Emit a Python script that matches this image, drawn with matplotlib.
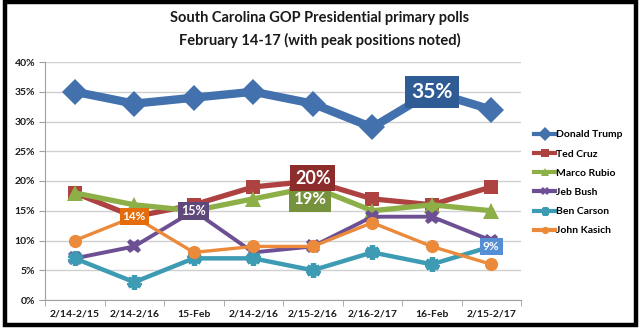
import matplotlib
matplotlib.use("Agg")
import matplotlib.pyplot as plt
from matplotlib.patches import Rectangle

plt.rcParams['font.family'] = ['Lato', 'DejaVu Sans']

categories = ["2/14-2/15", "2/14-2/16", "15-Feb", "2/14-2/16", "2/15-2/16", "2/16-2/17", "16-Feb", "2/15-2/17"]
trump = [35, 33, 34, 35, 33, 29, 35, 32]
cruz = [18, 14, 16, 19, 20, 17, 16, 19]
rubio = [18, 16, 15, 17, 19, 15, 16, 15]
bush = [7, 9, 15, 8, 9, 14, 14, 10]
carson = [7, 3, 7, 7, 5, 8, 6, 9]
kasich = [10, 14, 8, 9, 9, 13, 9, 6]
yticks = [0, 5, 10, 15, 20, 25, 30, 35, 40]

W, H = 640, 331
fig = plt.figure(figsize=(6.4, 3.31), dpi=100)
fig.patch.set_facecolor('white')
ax = fig.add_axes([45 / W, 1 - 300 / H, (521 - 45) / W, (300 - 62) / H])

x = list(range(len(categories)))
series = [
    ("Donald Trump", trump, '#4271AE', 'D', 13.5, 6.0, 0),
    ("Ted Cruz", cruz, '#AD4240', 's', 10.5, 3.8, 0),
    ("Marco Rubio", rubio, '#8DAF47', '^', 11.5, 3.8, 0),
    ("Jeb Bush", bush, '#6D4F93', 'X', 10.5, 2.8, 0),
    ("Ben Carson", carson, '#3D9CB4', (6, 2, 0), 10.5, 3.2, 3.8),
    ("John Kasich", kasich, '#EA8A3A', 'o', 9.5, 2.4, 0),
]
handles = []
for name, vals, col, mk, ms, lw, mew in series:
    kw = dict(color=col, lw=lw, marker=mk, ms=ms, mfc=col, mec=col, label=name,
              solid_joinstyle='round', zorder=3)
    kw['mew'] = mew if mew else 0
    h, = ax.plot(x, vals, **kw)
    handles.append(h)

ax.set_xlim(-0.5, len(categories) - 0.5)
ax.set_ylim(0, 40)
ax.set_yticks(yticks)
ax.set_yticklabels([f"{v}%" for v in yticks])
ax.set_xticks(x)
ax.set_xticklabels(categories)
ax.set_xticks([i + 0.5 for i in range(-1, len(categories))], minor=True)
ax.tick_params(axis='x', which='major', length=0, pad=7)
ax.tick_params(axis='x', which='minor', length=4, color='#a0a0a0', direction='out')
ax.tick_params(axis='y', length=4, color='#a0a0a0', pad=3)
for lab in ax.get_xticklabels() + ax.get_yticklabels():
    lab.set_fontweight('bold')
    lab.set_fontsize(7.5)
    lab.set_color('#1a1a1a')
ax.grid(axis='y', color='#d0d0d0', lw=1)
ax.set_axisbelow(True)
for s in ['top', 'right']:
    ax.spines[s].set_visible(False)
ax.spines['left'].set_color('#a0a0a0')
ax.spines['bottom'].set_color('#a0a0a0')

# peak labels
def peak(i, vals, txt, fc, fs, dx=0, dy=0, pad=0.25):
    ax.annotate(txt, xy=(i, vals[i]), xytext=(dx, dy), textcoords='offset points',
                ha='center', va='center', color='white', fontsize=fs, fontweight='bold',
                bbox=dict(boxstyle=f'square,pad={pad}', fc=fc, ec='none'), zorder=5)

peak(6, trump, "35%", '#2F5C94', 15, pad=0.3)
peak(4, rubio, "19%", '#76923C', 12, dx=-2, dy=-9)
peak(4, cruz, "20%", '#8C2D2B', 13, dy=2)
peak(2, bush, "15%", '#5F497A', 9)
peak(1, kasich, "14%", '#E46C0A', 8.5)
peak(7, carson, "9%", '#558ED5', 8.5)

leg = fig.legend(handles=handles, loc='upper left', bbox_to_anchor=(530 / W, 1 - 126 / H),
                 frameon=False, fontsize=7.5, handlelength=2.0, handletextpad=0.05,
                 labelspacing=0.95, numpoints=1, markerscale=0.55, borderaxespad=0)
for t in leg.get_texts():
    t.set_fontweight('bold')
for lh in leg.get_lines():
    lh.set_linewidth(3)

fig.text(320 / W, 1 - 18 / H, "South Carolina GOP Presidential primary polls",
         ha='center', va='center', fontsize=10.5, fontweight='bold', color='#1a1a1a')
fig.text(320 / W, 1 - 40 / H, "February 14-17 (with peak positions noted)",
         ha='center', va='center', fontsize=10.5, fontweight='bold', color='#1a1a1a')

# black frame
fig.patches.append(Rectangle((5 / W, 1 - 325 / H), 631 / W, 323 / H, transform=fig.transFigure,
                             fill=False, ec='black', lw=3.2, zorder=10))

fig.savefig("out.png", dpi=100)
